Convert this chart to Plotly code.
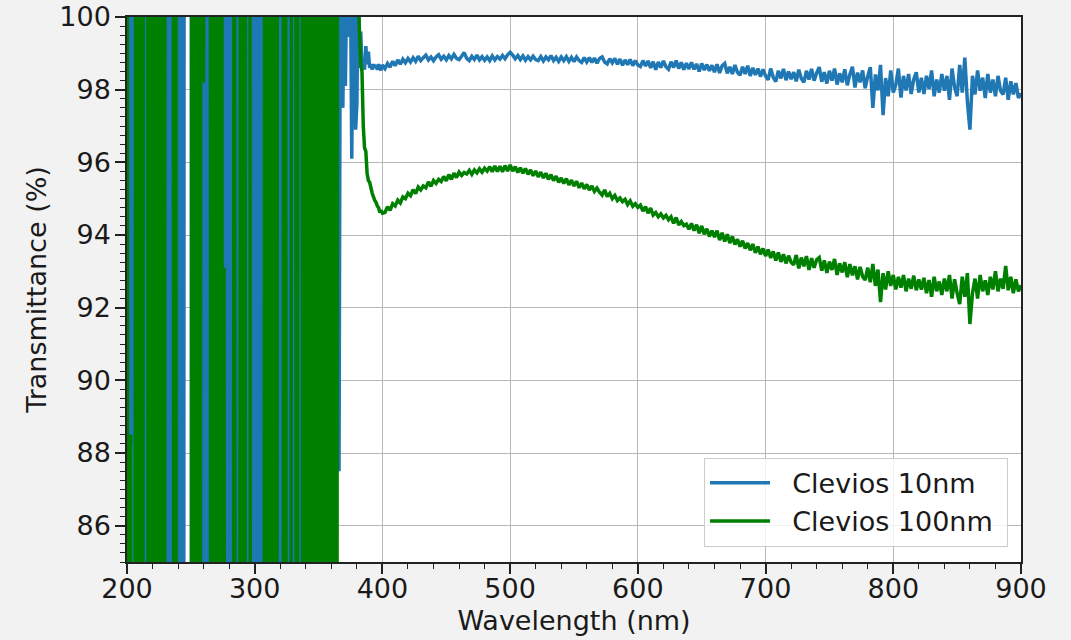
import plotly.graph_objects as go

# ---------------- data ----------------
# UV / near-UV part, 1 nm step (detector saturation -> wildly out-of-range values)
uv_wavelength = list(range(200, 401))
vis_wavelength = list(range(402, 901, 2))

clevios10_uv = [
    130, 130, 130, 88.2, 130, 130, 40, 130, 40, 130,      # 200-209
    40, 130, 40, 130, 40, 130, 40, 130, 40, 130,          # 210-219
    40, 130, 40, 130, 40, 130, 40, 130, 40, 130,          # 220-229
    40, 130, 40, 130, 40, 130, 40, 130, 40, 130,          # 230-239
    40, 130, 40, 130, 40, 130, 130, 130, 130, 130,        # 240-249
    130, 40, 130, 40, 130, 40, 130, 40, 130, 40,          # 250-259
    130, 40, 130, 40, 130, 40, 130, 40, 130, 40,          # 260-269
    130, 40, 130, 40, 130, 40, 130, 40, 130, 40,          # 270-279
    130, 40, 130, 40, 130, 40, 130, 40, 130, 40,          # 280-289
    130, 40, 130, 40, 130, 40, 130, 40, 130, 40,          # 290-299
    130, 40, 130, 40, 130, 40, 130, 40, 130, 40,          # 300-309
    130, 40, 130, 40, 130, 40, 130, 40, 130, 40,          # 310-319
    130, 40, 130, 40, 130, 40, 130, 40, 130, 40,          # 320-329
    130, 40, 130, 40, 130, 40, 130, 40, 130, 40,          # 330-339
    130, 40, 130, 40, 130, 40, 130, 40, 130, 40,          # 340-349
    130, 40, 130, 40, 130, 40, 130, 40, 130, 40,          # 350-359
    130, 40, 130, 40, 130, 130, 87.5, 101, 98.3, 97.5,    # 360-369
    101, 98.1, 101, 99.45, 101, 101, 96.1, 101, 101, 96.9,  # 370-379
    97.6, 101, 98.6, 99.6, 98.6, 98.75, 98.55, 99.2, 98.7, 99.05,  # 380-389
    98.6, 98.7, 98.55, 98.7, 98.6, 98.68, 98.55, 98.7, 98.58, 98.54,  # 390-399
    98.68,                                                  # 400
]

clevios100_uv = [
    130, 40, 40, 88.5, 40, 40, 40, 130, 40, 130,          # 200-209
    40, 130, 40, 130, 130, 130, 130, 40, 130, 40,         # 210-219
    130, 40, 130, 40, 130, 40, 130, 40, 130, 40,          # 220-229
    130, 130, 130, 130, 130, 130, 130, 40, 130, 40,       # 230-239
    40, 40, 40, 40, 40, 40, 40, 40, 40, 40,               # 240-249
    40, 130, 40, 130, 40, 130, 40, 40, 130, 130,          # 250-259
    98.2, 130, 130, 130, 130, 130, 40, 130, 40, 130,      # 260-269
    40, 130, 40, 130, 130, 40, 93.1, 40, 40, 40,          # 270-279
    40, 40, 40, 40, 130, 40, 40, 40, 40, 130,             # 280-289
    40, 130, 40, 130, 130, 130, 130, 40, 40, 40,          # 290-299
    40, 40, 40, 40, 40, 40, 40, 40, 130, 40,              # 300-309
    130, 40, 130, 40, 130, 40, 130, 40, 130, 130,         # 310-319
    130, 130, 130, 40, 130, 40, 40, 40, 40, 130,          # 320-329
    130, 130, 130, 40, 130, 130, 130, 130, 40, 130,       # 330-339
    40, 130, 40, 130, 40, 130, 40, 130, 40, 130,          # 340-349
    40, 130, 40, 130, 40, 130, 40, 130, 40, 130,          # 350-359
    40, 130, 40, 130, 40, 130, 130, 130, 130, 130,        # 360-369
    101, 101, 101, 101, 101, 101, 101, 101, 101, 101,     # 370-379
    101, 101, 99.6, 98.7, 98.5, 97.0, 96.4, 96.3, 95.7, 95.5,  # 380-389
    95.45, 95.3, 95.15, 95.05, 94.95, 94.9, 94.8, 94.75, 94.62, 94.68,  # 390-399
    94.6,                                                   # 400
]

# Visible part, 2 nm step (402 ... 900)
clevios10_vis = [
    98.58, 98.72, 98.62, 98.78, 98.66, 98.82, 98.70, 98.84, 98.74, 98.86,
    98.76, 98.88, 98.78, 98.92, 98.80, 98.88, 98.95, 98.82, 98.90, 98.80,
    98.90, 98.96, 98.84, 98.92, 98.82, 98.94, 98.85, 98.97, 98.86, 98.83,
    98.92, 99.02, 98.86, 98.80, 98.92, 98.83, 98.95, 98.82, 98.91, 98.81,
    98.90, 98.80, 98.93, 98.82, 98.91, 98.84, 98.94, 98.85, 98.96, 99.03,
    98.95, 98.85, 98.94, 98.83, 98.93, 98.81, 98.91, 98.82, 98.92, 98.83,
    98.80, 98.91, 98.79, 98.90, 98.82, 98.94, 98.80, 98.89, 98.78, 98.90,
    98.80, 98.91, 98.78, 98.89, 98.77, 98.90, 98.80, 98.75, 98.88, 98.76,
    98.88, 98.75, 98.87, 98.73, 98.86, 98.90, 98.76, 98.71, 98.85, 98.74,
    98.86, 98.70, 98.84, 98.67, 98.82, 98.69, 98.83, 98.66, 98.80, 98.68,
    98.64, 98.80, 98.65, 98.79, 98.60, 98.77, 98.55, 98.76, 98.61, 98.79,
    98.63, 98.56, 98.77, 98.61, 98.80, 98.58, 98.75, 98.55, 98.73, 98.57,
    98.75, 98.56, 98.71, 98.50, 98.72, 98.54, 98.69, 98.52, 98.67, 98.48,
    98.70, 98.46, 98.66, 98.72, 98.45, 98.63, 98.43, 98.68, 98.48, 98.40,
    98.63, 98.43, 98.66, 98.38, 98.60, 98.41, 98.58, 98.36, 98.56, 98.38,
    98.27, 98.58, 98.34, 98.22, 98.52, 98.31, 98.57, 98.26, 98.50, 98.29,
    98.48, 98.23, 98.55, 98.31, 98.20, 98.52, 98.28, 98.57, 98.25, 98.46,
    98.62, 98.22, 98.48, 98.17, 98.52, 98.25, 98.58, 98.14, 98.45, 98.20,
    98.56, 98.12, 98.42, 98.63, 98.06, 98.47, 98.20, 98.53, 98.04, 98.37,
    98.62, 97.50, 98.42, 97.98, 98.68, 97.30, 98.32, 97.82, 98.53, 97.92,
    98.14, 98.58, 97.78, 98.38, 97.98, 98.43, 97.88, 98.28, 98.48, 97.92,
    98.33, 97.88, 98.38, 98.02, 98.53, 97.82, 98.28, 97.92, 98.43, 97.97,
    98.38, 97.72, 98.58, 98.07, 97.82, 98.68, 97.92, 98.88, 97.68, 96.90,
    98.38, 97.87, 98.53, 97.97, 98.33, 97.77, 98.43, 97.92, 98.28, 97.82,
    98.38, 97.97, 97.87, 98.33, 97.72, 98.23, 97.87, 98.18, 97.77, 97.90,
]

clevios100_vis = [
    94.62, 94.78, 94.68, 94.86, 94.80, 94.96, 94.88, 95.05, 95.00, 95.15,
    95.08, 95.25, 95.14, 95.32, 95.24, 95.35, 95.30, 95.46, 95.34, 95.50,
    95.42, 95.53, 95.47, 95.61, 95.49, 95.66, 95.53, 95.70, 95.58, 95.73,
    95.64, 95.72, 95.68, 95.78, 95.67, 95.79, 95.71, 95.82, 95.73, 95.84,
    95.76, 95.88, 95.74, 95.90, 95.75, 95.89, 95.74, 95.91, 95.76, 95.93,
    95.76, 95.88, 95.72, 95.85, 95.70, 95.83, 95.67, 95.79, 95.63, 95.76,
    95.60, 95.73, 95.57, 95.70, 95.53, 95.66, 95.50, 95.62, 95.45, 95.57,
    95.42, 95.55, 95.38, 95.51, 95.35, 95.48, 95.30, 95.43, 95.27, 95.39,
    95.24, 95.35, 95.20, 95.29, 95.18, 95.10, 95.24, 95.06, 95.15, 95.00,
    95.09, 94.95, 95.02, 94.92, 94.98, 94.84, 94.94, 94.79, 94.86, 94.76,
    94.82, 94.66, 94.78, 94.60, 94.74, 94.55, 94.62, 94.50, 94.58, 94.47,
    94.54, 94.42, 94.50, 94.32, 94.48, 94.28, 94.37, 94.26, 94.30, 94.16,
    94.32, 94.12, 94.28, 94.05, 94.25, 94.02, 94.17, 93.96, 94.12, 93.94,
    94.12, 93.86, 94.06, 93.82, 94.02, 93.78, 93.96, 93.74, 93.88, 93.68,
    93.84, 93.63, 93.78, 93.58, 93.75, 93.51, 93.68, 93.47, 93.63, 93.42,
    93.60, 93.37, 93.55, 93.30, 93.52, 93.26, 93.47, 93.22, 93.43, 93.25,
    93.18, 93.45, 93.08, 93.38, 93.14, 93.42, 93.04, 93.36, 93.10, 93.32,
    93.38, 93.02, 93.30, 92.96, 93.27, 93.04, 93.34, 92.90, 93.22, 92.97,
    93.25, 92.84, 93.20, 92.89, 93.14, 92.78, 93.12, 92.86, 92.76, 93.10,
    92.70, 93.20, 92.60, 93.05, 92.15, 92.95, 92.50, 93.00, 92.60, 92.90,
    92.50, 92.85, 92.55, 92.90, 92.45, 92.80, 92.52, 92.88, 92.48, 92.78,
    92.50, 92.82, 92.40, 92.76, 92.30, 92.85, 92.45, 92.72, 92.35, 92.80,
    92.45, 92.90, 92.25, 92.78, 92.40, 92.10, 92.85, 92.30, 92.95, 91.55,
    92.40, 92.80, 92.25, 92.90, 92.45, 92.75, 92.35, 92.85, 92.50, 93.00,
    92.45, 92.80, 92.52, 93.15, 92.48, 92.85, 92.40, 92.78, 92.45, 92.62,
]

series_names = ["\u00a0\u00a0Clevios 10nm\u00a0", "\u00a0\u00a0Clevios 100nm\u00a0"]
series_colors = ["#1f77b4", "#008000"]

x_ticks = [200, 300, 400, 500, 600, 700, 800, 900]
y_ticks = [86, 88, 90, 92, 94, 96, 98, 100]

# ---------------- figure ----------------
wavelength = uv_wavelength + vis_wavelength
series_values = [clevios10_uv + clevios10_vis, clevios100_uv + clevios100_vis]

fig = go.Figure()
for name, color, vals in zip(series_names, series_colors, series_values):
    fig.add_trace(go.Scatter(
        x=wavelength, y=vals, mode="lines", name=name,
        line=dict(color=color, width=3.5, simplify=False),
    ))

font_family = "DejaVu Sans"
text_color = "#1a1a1a"

axis_common = dict(
    showline=True, mirror=True, linecolor="#222222", linewidth=1.5,
    ticks="outside", ticklen=10, tickwidth=1.5, tickcolor="#222222",
    showgrid=True, gridcolor="#b8b8b8", gridwidth=1.2,
    zeroline=False, automargin=False,
    tickfont=dict(family=font_family, size=27, color=text_color),
)

fig.update_xaxes(
    range=[200, 900], tickvals=x_ticks, ticklabelstandoff=-8,
    minor=dict(dtick=20, ticks="outside", ticklen=5, tickcolor="#222222", tickwidth=1.2, showgrid=False),
    title=dict(text="Wavelength (nm)", font=dict(family=font_family, size=27, color=text_color), standoff=8),
    **axis_common,
)
fig.update_yaxes(
    range=[85, 100], tickvals=y_ticks, ticklabelstandoff=-1,
    minor=dict(dtick=0.25, tick0=85, ticks="outside", ticklen=5, tickcolor="#222222", tickwidth=1.2, showgrid=False),
    title=dict(text="Transmittance (%)", font=dict(family=font_family, size=27, color=text_color), standoff=5),
    **axis_common,
)

fig.update_layout(
    width=1071, height=640,
    margin=dict(l=127, r=50, t=17, b=78),
    paper_bgcolor="#f2f2f2",
    plot_bgcolor="#ffffff",
    font=dict(family=font_family, size=27, color=text_color),
    showlegend=True,
    legend=dict(
        x=0.9855, y=0.028, xanchor="right", yanchor="bottom",
        bgcolor="rgba(255,255,255,0.8)", bordercolor="#cccccc", borderwidth=1,
        itemwidth=60,
        font=dict(family=font_family, size=27, color=text_color),
    ),
)

fig.write_html(
    "out.html",
    config={"displayModeBar": False},
    post_script="document.body.style.margin='0';document.body.style.background='#f2f2f2';",
)
